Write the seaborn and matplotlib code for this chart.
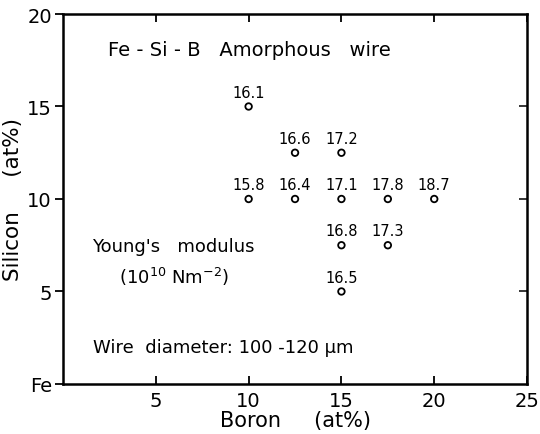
import matplotlib
matplotlib.use("Agg")
import matplotlib.pyplot as plt
import seaborn as sns
import pandas as pd

boron = [10, 12.5, 15, 10, 12.5, 15, 17.5, 20, 15, 17.5, 15]
silicon = [15, 12.5, 12.5, 10, 10, 10, 10, 10, 7.5, 7.5, 5]
modulus = ["16.1", "16.6", "17.2", "15.8", "16.4", "17.1", "17.8", "18.7", "16.8", "17.3", "16.5"]
xticks = [5, 10, 15, 20, 25]
yticks = [0, 5, 10, 15, 20]
ytick_labels = ["Fe", "5", "10", "15", "20"]

sns.set_theme(style="ticks")
plt.rcParams['font.family'] = ['DejaVu Sans']
plt.rcParams['text.color'] = 'black'
plt.rcParams['axes.labelcolor'] = 'black'

df = pd.DataFrame({"Boron": boron, "Silicon": silicon, "E": modulus})

fig = plt.figure(figsize=(5.4, 4.35), dpi=100)
ax = fig.add_axes([0.1167, 0.115, 0.8593, 0.8505])

sns.scatterplot(data=df, x="Boron", y="Silicon", ax=ax, marker="o", s=22,
                facecolors="none", edgecolor="black", linewidth=1.3, legend=False)

for b, s, e in zip(boron, silicon, modulus):
    ax.annotate(e, (b, s), xytext=(0, 5), textcoords="offset points",
                ha="center", va="bottom", fontsize=10.5, color="black")

ax.set_xlim(0, 25)
ax.set_ylim(0, 20)
ax.set_xticks(xticks)
ax.set_yticks(yticks)
ax.set_yticklabels(ytick_labels)

for sp in ax.spines.values():
    sp.set_visible(True)
    sp.set_linewidth(1.8)
    sp.set_color("black")

ax.tick_params(axis="x", direction="in", top=True, length=6, width=1.3,
               labelsize=14, colors="black", pad=5)
ax.tick_params(axis="y", direction="out", length=6, width=1.3,
               labelsize=14, colors="black", pad=2, right=False)
ax2 = ax.secondary_yaxis("right")
ax2.set_yticks([5, 10, 15])
ax2.tick_params(direction="in", length=6, width=1.3, labelright=False)
ax2.spines["right"].set_visible(False)

ax.set_xlabel("Boron     (at%)", fontsize=15, color="black", labelpad=0)
ax.set_ylabel("Silicon     (at%)", fontsize=15.5, color="black", labelpad=3)

ax.text(2.4, 18.1, "Fe - Si - B   Amorphous   wire", fontsize=14, va="center", ha="left")
ax.text(1.55, 7.45, "Young's   modulus", fontsize=13, va="center", ha="left")
ax.text(3.0, 5.85, r"(10$^{10}$ Nm$^{-2}$)", fontsize=13, va="center", ha="left")
ax.text(1.6, 2.0, "Wire  diameter: 100 -120 μm", fontsize=13, va="center", ha="left")

fig.savefig("out.png", dpi=100)
